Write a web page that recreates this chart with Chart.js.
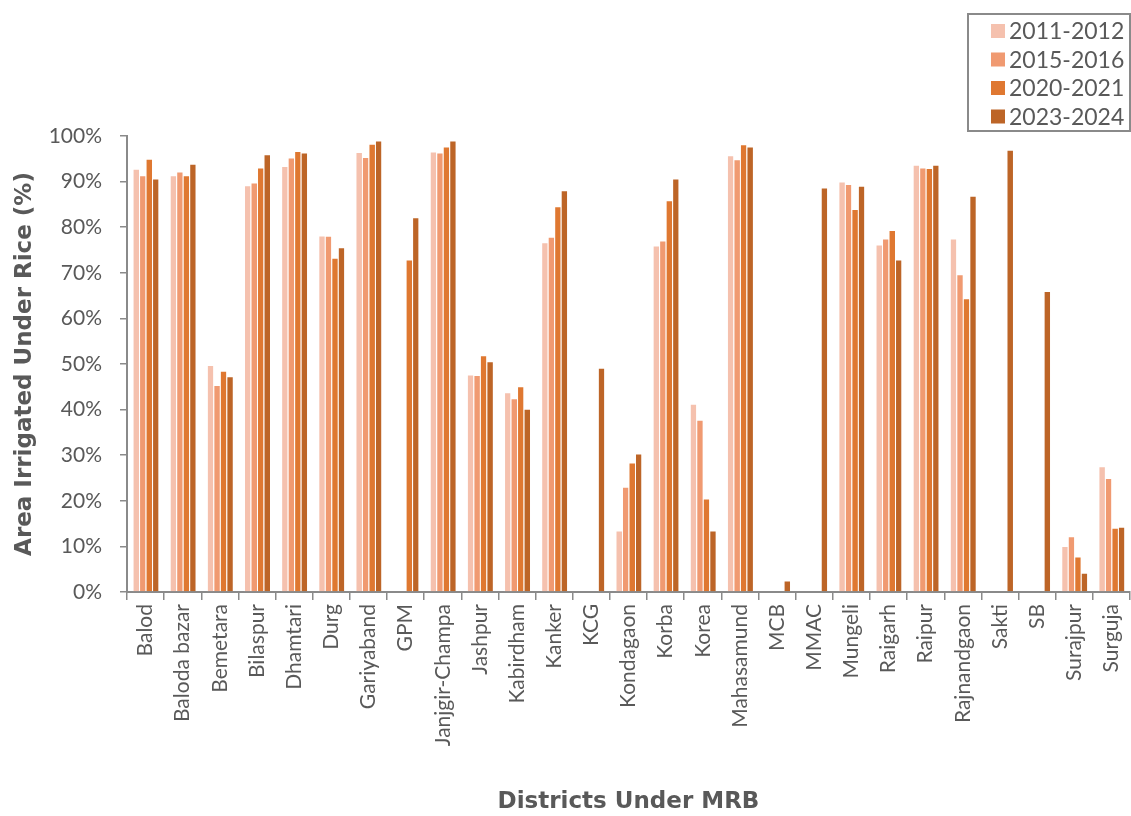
<!DOCTYPE html>
<html>
<head>
<meta charset="utf-8">
<script src="https://cdn.jsdelivr.net/npm/chart.js@4.4.1/dist/chart.umd.min.js"></script>
<style>
  html, body { margin: 0; padding: 0; background: #fff; }
</style>
</head>
<body>
<canvas id="riceIrrigation" width="1131" height="816"></canvas>
<script>
const districts = ["Balod", "Baloda bazar", "Bemetara", "Bilaspur", "Dhamtari", "Durg", "Gariyaband", "GPM",
  "Janjgir-Champa", "Jashpur", "Kabirdham", "Kanker", "KCG", "Kondagaon", "Korba", "Korea", "Mahasamund",
  "MCB", "MMAC", "Mungeli", "Raigarh", "Raipur", "Rajnandgaon", "Sakti", "SB", "Surajpur", "Surguja"]

const years = ["2011-2012", "2015-2016", "2020-2021", "2023-2024"]

// % area under rice that is irrigated, per district (null = district did not exist yet)
const irrigated2011 = [92.8, 91.4, 49.8, 89.2, 93.4, 78.2, 96.5, null, 96.6, 47.7, 43.8, 76.7, null, 13.5, 76.0, 41.3, 95.8, null, null, 90.0, 76.2, 93.7, 77.5, null, null, 10.1, 27.6]
const irrigated2015 = [91.4, 92.2, 45.4, 89.8, 95.3, 78.1, 95.4, null, 96.4, 47.6, 42.5, 77.9, null, 23.1, 77.1, 37.8, 94.9, null, null, 89.5, 77.5, 93.1, 69.7, null, null, 12.2, 25.0]
const irrigated2020 = [95.0, 91.4, 48.5, 93.1, 96.7, 73.3, 98.3, 72.9, 97.7, 51.9, 45.1, 84.6, null, 28.4, 85.9, 20.5, 98.2, null, null, 84.0, 79.4, 93.0, 64.4, null, null, 7.8, 14.1]
const irrigated2023 = [90.7, 93.9, 47.3, 96.0, 96.4, 75.6, 99.0, 82.2, 99.0, 50.6, 40.2, 88.1, 49.2, 30.4, 90.7, 13.5, 97.7, 2.5, 88.7, 89.1, 72.9, 93.7, 86.9, 97.0, 66.0, 4.2, 14.3]

const yTicks = [0, 10, 20, 30, 40, 50, 60, 70, 80, 90, 100]

const colors = ["#f5c1ae", "#f09a71", "#df7831", "#bd6527"]
const textGrey = "#595959"
const axisGrey = "#8a8a8a"
const fontFamily = "Lato, 'Open Sans', sans-serif"
const titleFamily = "'DejaVu Sans', sans-serif"

const series = [irrigated2011, irrigated2015, irrigated2020, irrigated2023]

// boxed legend in the top right corner, stacked vertically
const boxedLegend = {
  id: "boxedLegend",
  afterDraw(chart) {
    const ctx = chart.ctx
    const w = 162, h = 117
    const x = chart.chartArea.right - w
    const y = 14
    ctx.save()
    ctx.fillStyle = "#fff"
    ctx.fillRect(x, y, w, h)
    ctx.strokeStyle = axisGrey
    ctx.lineWidth = 2
    ctx.strokeRect(x, y, w, h)
    ctx.font = `23px ${fontFamily}`
    ctx.textBaseline = "middle"
    chart.data.datasets.forEach((ds, i) => {
      const cy = y + 17 + i * 28.5
      ctx.fillStyle = ds.backgroundColor
      ctx.fillRect(x + 23, cy - 7, 14, 14)
      ctx.fillStyle = textGrey
      ctx.fillText(ds.label, x + 41, cy + 1)
    })
    ctx.restore()
  }
}

new Chart(document.getElementById("riceIrrigation"), {
  type: "bar",
  data: {
    labels: districts,
    datasets: years.map((year, i) => ({
      label: year,
      data: series[i],
      backgroundColor: colors[i],
      borderColor: "rgba(255,255,255,0.85)",
      borderWidth: { top: 1, left: 1, right: 0, bottom: 0 },
      borderSkipped: false,
      categoryPercentage: 0.7,
      barPercentage: 1
    }))
  },
  options: {
    responsive: false,
    animation: false,
    devicePixelRatio: 1,
    layout: { padding: { top: 136, left: 11, right: 1, bottom: 0 } },
    plugins: {
      legend: { display: false },
      tooltip: { enabled: false }
    },
    scales: {
      x: {
        afterFit: scale => {
          scale.height = 224
          scale.paddingLeft = 0
          scale.paddingRight = 0
        },
        grid: { offset: true, drawOnChartArea: false, drawTicks: true, tickLength: 8, color: axisGrey, lineWidth: 1.5 },
        border: { color: axisGrey, width: 2 },
        ticks: {
          autoSkip: false, minRotation: 90, maxRotation: 90, padding: 4,
          color: textGrey, font: { family: fontFamily, size: 21 }
        },
        title: {
          display: true, text: "Districts Under MRB", color: textGrey,
          font: { family: titleFamily, size: 23, weight: "bold" }, padding: { top: 0, bottom: 0 }
        }
      },
      y: {
        min: 0, max: 100,
        afterBuildTicks: scale => { scale.ticks = yTicks.map(v => ({ value: v })) },
        afterFit: scale => {
          scale.width = 116
          scale.paddingTop = 0
          scale.paddingBottom = 0
        },
        grid: { drawOnChartArea: false, drawTicks: true, tickLength: 7, color: axisGrey, lineWidth: 1.5 },
        border: { color: axisGrey, width: 2 },
        ticks: {
          padding: 18, color: textGrey, font: { family: fontFamily, size: 21 },
          callback: v => v + "%"
        },
        title: {
          display: true, text: "Area Irrigated Under Rice (%)", color: textGrey,
          font: { family: titleFamily, size: 23, weight: "bold" }, padding: { top: 0, bottom: 0 }
        }
      }
    }
  },
  plugins: [boxedLegend]
})
</script>
</body>
</html>
